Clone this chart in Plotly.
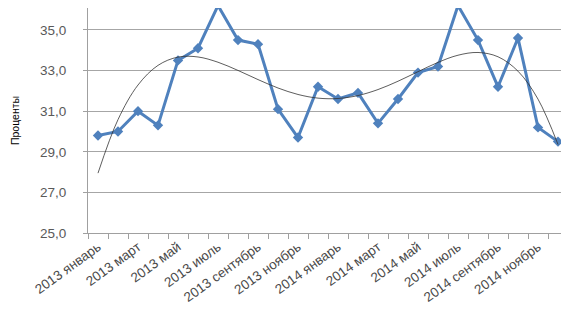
import numpy as np
import plotly.graph_objects as go

months = ["2013 январь", "2013 февраль", "2013 март", "2013 апрель", "2013 май", "2013 июнь",
          "2013 июль", "2013 август", "2013 сентябрь", "2013 октябрь", "2013 ноябрь", "2013 декабрь",
          "2014 январь", "2014 февраль", "2014 март", "2014 апрель", "2014 май", "2014 июнь",
          "2014 июль", "2014 август", "2014 сентябрь", "2014 октябрь", "2014 ноябрь", "2014 декабрь"]
values = [29.8, 30.0, 31.0, 30.3, 33.5, 34.1, 36.2, 34.5, 34.3, 31.1, 29.7, 32.2,
          31.6, 31.9, 30.4, 31.6, 32.9, 33.2, 36.2, 34.5, 32.2, 34.6, 30.2, 29.5]
y_ticks = [25.0, 27.0, 29.0, 31.0, 33.0, 35.0]

# polynomial trend line (order 4), as an Excel-style trendline
xi = np.arange(1, len(values) + 1)
trend = np.polyval(np.polyfit(xi, values, 4), xi)

ticktext = [m if i % 2 == 0 else "" for i, m in enumerate(months)]

fig = go.Figure()
fig.add_trace(go.Scatter(
    x=months, y=values, mode="lines+markers",
    line=dict(color="#4F81BD", width=3),
    marker=dict(symbol="diamond", size=8, color="#4F81BD"),
    showlegend=False, cliponaxis=False))
fig.add_trace(go.Scatter(
    x=months, y=trend, mode="lines", line=dict(color="#333333", width=0.8, shape="spline"),
    showlegend=False))

fig.update_layout(
    width=561, height=315,
    margin=dict(l=80, r=1, t=0, b=90),
    paper_bgcolor="white", plot_bgcolor="white",
    separators=", ",
    font=dict(family="Liberation Sans, Arial, sans-serif", color="#595959", size=11),
    xaxis=dict(
        type="category", tickmode="array", tickvals=months, ticktext=ticktext,
        tickson="boundaries", ticks="outside", ticklen=5, tickcolor="#A0A0A0",
        tickangle=-36, showgrid=False, showline=True, linecolor="#A0A0A0",
        tickfont=dict(size=13.5, color="#4a4a4a"), range=[-0.5, 23.5], automargin=False),
    yaxis=dict(
        range=[25, 36.08], tickmode="array", tickvals=y_ticks, tickformat=".1f",
        showgrid=True, gridcolor="#A6A6A6", gridwidth=1,
        showline=True, linecolor="#A0A0A0", ticks="outside", ticklen=4, tickcolor="#A0A0A0",
        ticklabelstandoff=14, automargin=False,
        tickfont=dict(size=13.5, color="#595959"), zeroline=False,
        title=dict(text="Проценты", font=dict(size=10.5, color="#000000"), standoff=18)),
)
fig.write_html("out.html")
